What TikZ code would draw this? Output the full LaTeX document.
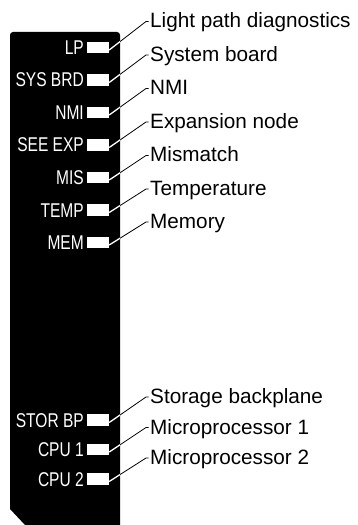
\documentclass[tikz,border=0pt]{standalone}
\usepackage{fontspec}
\setmainfont{Liberation Sans}
\newfontfamily\narrowsans[FakeStretch=0.78]{Liberation Sans}
\usepackage{tikz}
\usepackage{xcolor}
\usetikzlibrary{positioning}

\tikzset{
    led/.style={fill=white, draw=none, minimum width=22bp, minimum height=11.5bp, inner sep=0pt},
    tag/.style={text=white, inner sep=0pt, font=\narrowsans\fontsize{20}{20}\selectfont},
    lbl/.style={text=black, inner sep=0pt, font=\fontsize{20.8}{21}\selectfont},
    leader/.style={black, line width=0.8bp},
    glow/.style={white, line width=1.3bp}
}
\newcommand{\panelpath}{(25,525) -- (10,509) [rounded corners=3bp] -- (10,32) -- (120,32) [sharp corners] -- (120,525) -- cycle}

\begin{document}
\begin{tikzpicture}[x=1bp, y=-1bp]
        \useasboundingbox (0,0) rectangle (357,525);
        \fill[black] \panelpath;

        \foreach \i/\tg/\y/\txt/\ry in {1/LP/47.5/Light path diagnostics/20.5,
            2/SYS BRD/80/System board/54, 3/NMI/112.5/NMI/87.5,
            4/SEE EXP/145/Expansion node/121, 5/MIS/177.5/Mismatch/154.5,
            6/TEMP/210/Temperature/188, 7/MEM/242.5/Memory/221,
            8/STOR BP/420/Storage backplane/396, 9/CPU 1/449.5/Microprocessor 1/426.5,
            10/CPU 2/479/Microprocessor 2/457} {
            \node[led] (led\i) at (98, \y) {};
            \node[tag, anchor=base east] (tag\i) at (84, \y+7) {\tg};
            \node[lbl, anchor=base west] (lbl\i) at (150, \ry+7.5) {\txt};
            \coordinate (end\i) at (146, \ry+1);
            \draw[leader] ([yshift=-2.5bp]led\i.east) -- (end\i) -- +(2.5,0);
        }

        % the part of each leader over the panel shows white
        \begin{scope}
            \clip \panelpath;
            \foreach \i in {1,...,10} {
                \draw[glow] ([yshift=-2.5bp]led\i.east) -- (end\i);
            }
        \end{scope}
    \end{tikzpicture}
\end{document}
